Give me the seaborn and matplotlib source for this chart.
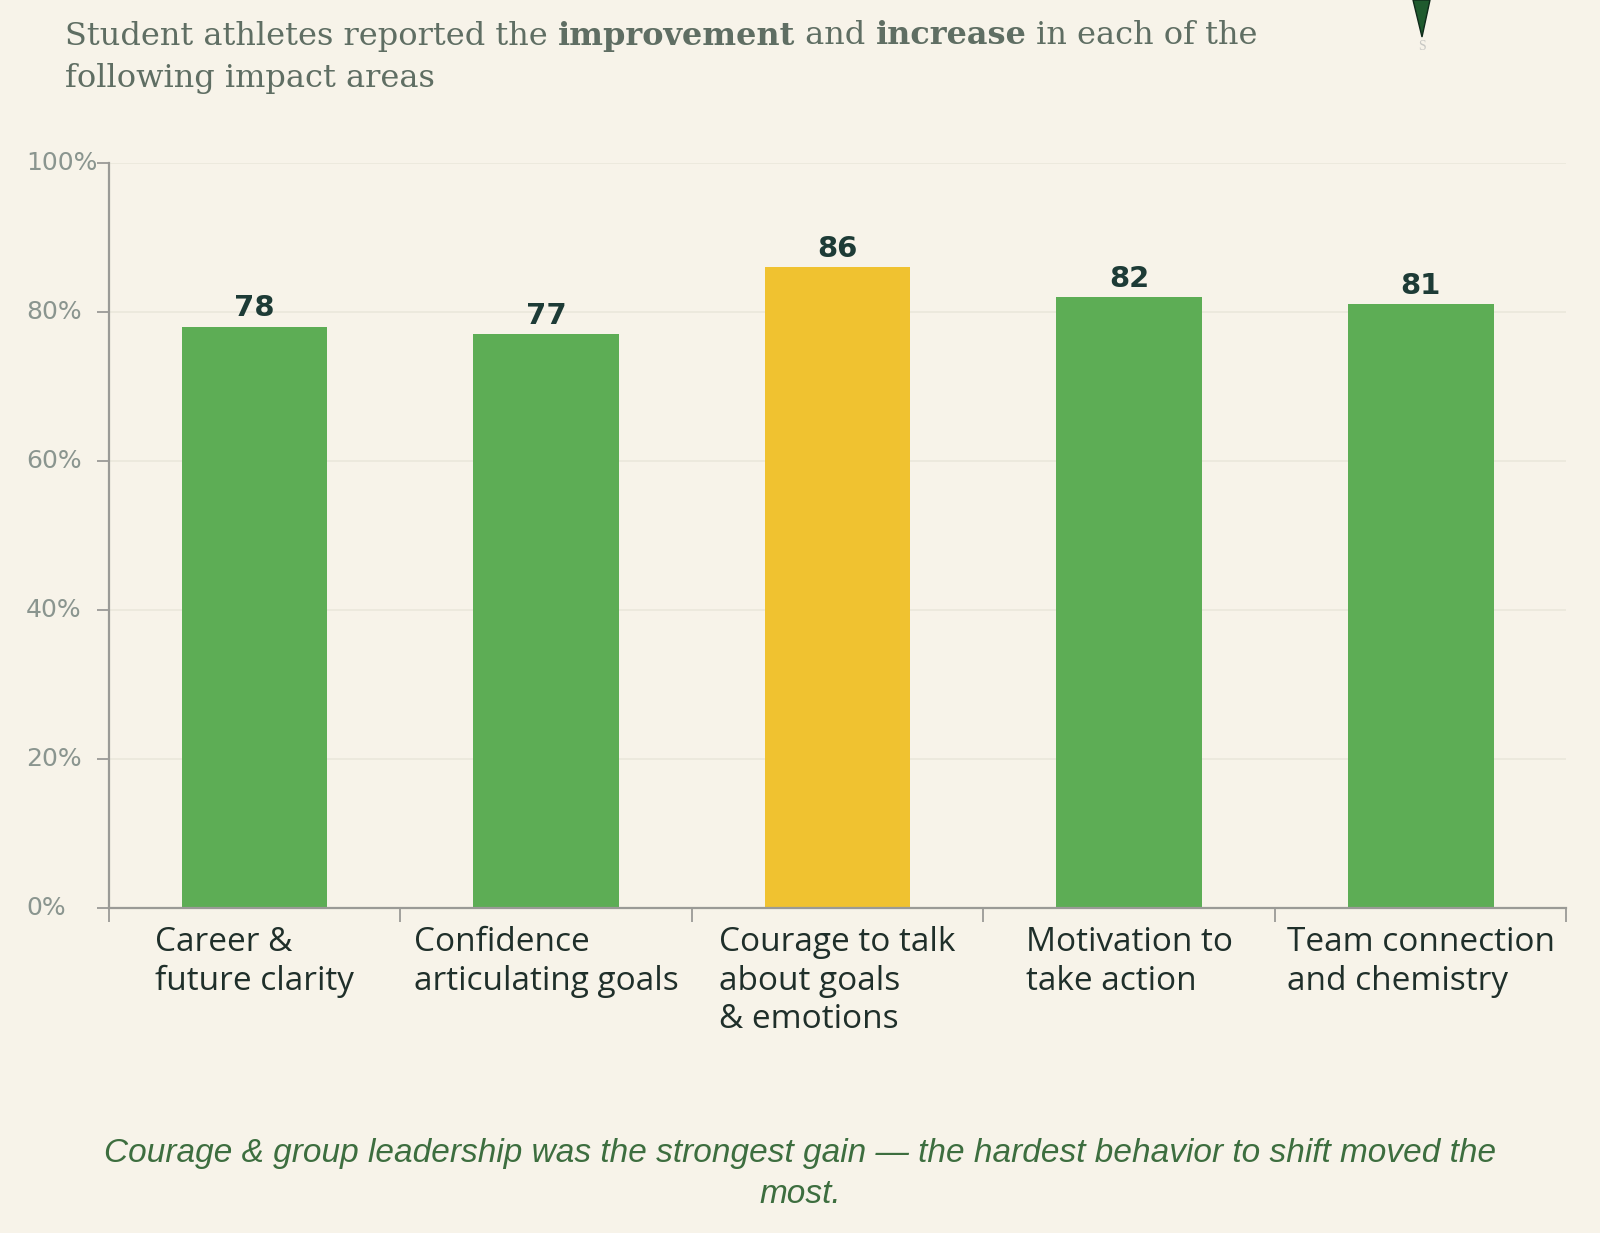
import matplotlib
matplotlib.use("Agg")
import matplotlib.pyplot as plt
import matplotlib.transforms as mtransforms
from matplotlib.patches import Polygon
import seaborn as sns
import pandas as pd

# data
categories = ["Career &\nfuture clarity", "Confidence\narticulating goals",
              "Courage to talk\nabout goals\n& emotions", "Motivation to\ntake action",
              "Team connection\nand chemistry"]
values = [78, 77, 86, 82, 81]
bar_colors = ["#5dad55", "#5dad55", "#f0c230", "#5dad55", "#5dad55"]
y_ticks = [0, 20, 40, 60, 80, 100]
y_tick_labels = ["0%", "20%", "40%", "60%", "80%", "100%"]

title_parts = [("Student athletes reported the ", "normal"), ("improvement", "bold"),
               (" and ", "normal"), ("increase", "bold"), (" in each of the", "normal")]
title_line2 = "following impact areas"
caption = ("Courage & group leadership was the strongest gain \u2014 the hardest behavior to shift moved the\nmost.")

BG = "#f7f3e9"
TITLE_C = "#5f6e63"
SPINE_C = "#9a9a96"

sns.set_theme(style="white")
plt.rcParams["font.family"] = ["DejaVu Sans"]

fig = plt.figure(figsize=(16, 12.33), dpi=100, facecolor=BG)
ax = fig.add_axes([0.068, 0.2636, 0.911, 0.6045])
ax.set_facecolor(BG)

df = pd.DataFrame({"cat": categories, "val": values})
sns.barplot(data=df, x="cat", y="val", hue="cat", palette=bar_colors,
            legend=False, width=0.5, saturation=1, linewidth=0, ax=ax)

for cont in ax.containers:
    ax.bar_label(cont, padding=3, fontsize=21, fontweight="bold", color="#1d3b36")

ax.set_xlim(-0.5, len(categories) - 0.5)
ax.set_ylim(0, 100)
ax.set_xlabel("")
ax.set_ylabel("")

ax.set_yticks(y_ticks)
ax.tick_params(axis="y", left=True, length=9, width=1.3, color=SPINE_C, labelleft=False, direction="out")
ax.yaxis.grid(True, color="#ebe8dc", lw=1.3)
ax.set_axisbelow(True)

ax.set_xticks(range(len(categories)))
ax.set_xticklabels(categories, fontsize=24, color="#1f2f2a", family=["Open Sans"],
                   multialignment="left", linespacing=1.22)
ax.tick_params(axis="x", which="major", bottom=False, length=0, pad=13)
ax.set_xticks([i - 0.5 for i in range(len(categories) + 1)], minor=True)
ax.tick_params(axis="x", which="minor", bottom=True, length=10, width=1.3, color=SPINE_C, direction="out")

for s in ["top", "right"]:
    ax.spines[s].set_visible(False)
for s in ["left", "bottom"]:
    ax.spines[s].set_color(SPINE_C)
    ax.spines[s].set_linewidth(1.6)

# y labels left aligned at figure margin
tr = mtransforms.blended_transform_factory(fig.transFigure, ax.transData)
for t, lab in zip(y_ticks, y_tick_labels):
    ax.text(26 / 1600, t, lab, transform=tr, ha="left", va="center",
            fontsize=18, color="#8a958f", clip_on=False)

# title with mixed weights
fig.canvas.draw()
renderer = fig.canvas.get_renderer()
x = 65 / 1600
y1 = 1 - 36 / 1233
for txt, w in title_parts:
    t = fig.text(x, y1, txt, fontsize=23, fontweight=w, color=TITLE_C,
                 family=["DejaVu Serif"], ha="left", va="center")
    bb = t.get_window_extent(renderer=renderer)
    x += bb.width / fig.bbox.width
fig.text(65 / 1600, 1 - 79 / 1233, title_line2, fontsize=23, color=TITLE_C,
         family=["DejaVu Serif"], ha="left", va="center")

# small logo top right
logo = Polygon([[1413 / 1600, 1.0], [1430 / 1600, 1.0], [1422 / 1600, 1 - 37 / 1233]],
               closed=True, transform=fig.transFigure, facecolor="#1f5a2e", edgecolor="#0f2a1a")
fig.patches.append(logo)
fig.text(1422 / 1600, 1 - 47 / 1233, "S", fontsize=10, color="#c8c8c4",
         family=["Liberation Serif"], ha="center", va="center")

fig.text(0.5, 1 - 1174 / 1233, caption, fontsize=24, style="italic", color="#3d6e3f",
         family=["Liberation Sans"], ha="center", va="center", linespacing=1.4)

fig.savefig("out.png", dpi=100, facecolor=BG)
